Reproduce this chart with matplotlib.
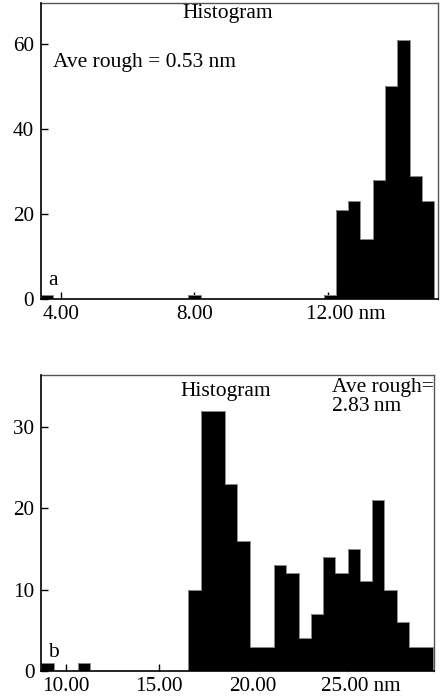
import numpy as np
import matplotlib
matplotlib.use("Agg")
import matplotlib.pyplot as plt
from matplotlib.transforms import blended_transform_factory

plt.rcParams["font.family"] = ["Liberation Serif", "DejaVu Serif"]

# (a) height histogram, 32 bins
a_range = (3.41, 15.186)
a_counts = [1, 0, 0, 0, 0, 0, 0, 0, 0, 0, 0, 0, 1, 0, 0, 0,
            0, 0, 0, 0, 0, 0, 0, 1, 21, 23, 14, 28, 50, 61, 29, 23]
a_xticks = [4.0, 8.0, 12.0]
a_xticklabels = ["4.00", "8.00", "12.00 nm"]
a_yticks = [0, 20, 40, 60]
a_rough = "Ave rough = 0.53 nm"

# (b) height histogram, 32 bins
b_range = (8.70, 29.63)
b_counts = [1, 0, 0, 1, 0, 0, 0, 0, 0, 0, 0, 0, 10, 32, 32, 23,
            16, 3, 3, 13, 12, 4, 7, 14, 12, 15, 11, 21, 10, 6, 3, 3]
b_xticks = [10.0, 15.0, 20.0, 25.0]
b_xticklabels = ["10.00", "15.00", "20.00", "25.00 nm"]
b_yticks = [0, 10, 20, 30]

FS = 15.2
TFS = 15.5
XPAD = 4.5

fig = plt.figure(figsize=(4.44, 6.98), dpi=100)
ax_a = fig.add_axes([0.0923, 0.5716, 0.894, 0.4241])
ax_b = fig.add_axes([0.0930, 0.0387, 0.8845, 0.4245])


def draw_hist(ax, rng, counts, xlim, ylim, xticks, xticklabels, yticks,
              last_shift):
    edges = np.linspace(rng[0], rng[1], len(counts) + 1)
    ax.stairs(counts, edges, fill=True, color="black", zorder=2)
    ax.stairs(counts, edges, fill=False, color="#8c8c8c", linewidth=0.7,
              zorder=2.1)
    ax.set_xlim(*xlim)
    ax.set_ylim(*ylim)
    ax.set_xticks(xticks)
    # the last label carries the unit; it is placed by hand below
    ax.set_xticklabels(list(xticklabels[:-1]) + [""])
    ax.set_yticks(yticks)
    ax.tick_params(axis="both", direction="in", length=5, width=1,
                   labelsize=FS, top=False, right=False, color="black")
    ax.tick_params(axis="y", pad=5)
    ax.tick_params(axis="x", pad=XPAD)
    for side in ("top", "right"):
        ax.spines[side].set_color("#555555")
        ax.spines[side].set_linewidth(1.0)
    for side in ("left", "bottom"):
        ax.spines[side].set_color("black")
        ax.spines[side].set_linewidth(1.2)
        ax.spines[side].set_zorder(3)
    tr = blended_transform_factory(ax.transData, ax.transAxes)
    ax.annotate(xticklabels[-1], xy=(xticks[-1], 0), xycoords=tr,
                xytext=(last_shift, -XPAD), textcoords="offset points",
                ha="left", va="top", fontsize=FS, annotation_clip=False)


draw_hist(ax_a, a_range, a_counts, (3.41, 15.30), (0, 69.6),
          a_xticks, a_xticklabels, a_yticks, -16.0)
draw_hist(ax_b, b_range, b_counts, (8.70, 29.66), (0, 36.4),
          b_xticks, b_xticklabels, b_yticks, -18.5)

# panel (a) annotations
ax_a.text(0.471, 0.963, "Histogram", transform=ax_a.transAxes,
          ha="center", va="center", fontsize=TFS)
ax_a.text(0.030, 0.80, a_rough, transform=ax_a.transAxes,
          ha="left", va="center", fontsize=TFS)
ax_a.text(0.018, 0.047, "a", transform=ax_a.transAxes,
          ha="left", va="baseline", fontsize=TFS)

# panel (b) annotations
ax_b.text(0.469, 0.942, "Histogram", transform=ax_b.transAxes,
          ha="center", va="center", fontsize=TFS)
ax_b.text(0.7395, 0.958, "Ave rough=", transform=ax_b.transAxes,
          ha="left", va="center", fontsize=TFS)
ax_b.text(0.7395, 0.891, "2.83\u2009nm", transform=ax_b.transAxes,
          ha="left", va="center", fontsize=TFS)
ax_b.text(0.017, 0.047, "b", transform=ax_b.transAxes,
          ha="left", va="baseline", fontsize=TFS)

fig.savefig("out.png", dpi=100)
